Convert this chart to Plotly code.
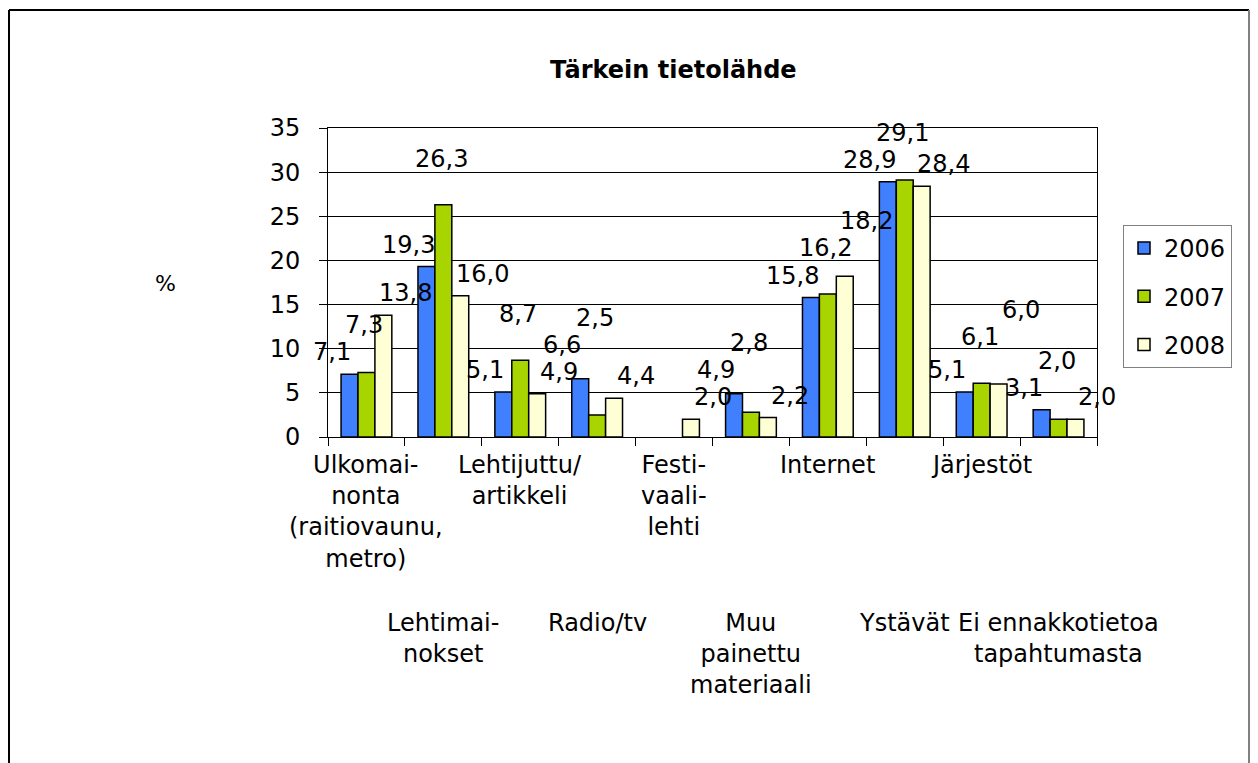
import plotly.graph_objects as go

# chart data
categories = ["Ulkomainonta", "Lehtimainokset", "Lehtijuttu", "Radio/tv", "Festivaalilehti",
              "Muu painettu materiaali", "Internet", "Ystävät", "Järjestöt", "Ei ennakkotietoa"]
tick_labels = ["Ulkomai-<br>nonta<br>(raitiovaunu,<br>metro)", "Lehtimai-<br>nokset",
               "Lehtijuttu/<br>artikkeli", "Radio/tv", "Festi-<br>vaali-<br>lehti",
               "Muu<br>painettu<br>materiaali", "Internet", "Ystävät", "Järjestöt",
               "Ei ennakkotietoa<br>tapahtumasta"]
years = ["2006", "2007", "2008"]
v2006 = [7.1, 19.3, 5.1, 6.6, None, 4.9, 15.8, 28.9, 5.1, 3.1]
v2007 = [7.3, 26.3, 8.7, 2.5, None, 2.8, 16.2, 29.1, 6.1, 2.0]
v2008 = [13.8, 16.0, 4.9, 4.4, 2.0, 2.2, 18.2, 28.4, 6.0, 2.0]
series = [v2006, v2007, v2008]
y_ticks = [0, 5, 10, 15, 20, 25, 30, 35]

colors = ["#4080FF", "#A8D400", "#FFFFD6"]
FONT = "DejaVu Sans"

# page body adds an 8px offset, so the figure is laid out 8px smaller
OFF = 8
W, H = 1258 - OFF, 763 - OFF
L, T = 328 - OFF, 128 - OFF
pw, ph = 1097 - 328, 437 - 128
R, B = W - L - pw, H - T - ph
bargap = 0.34
YMAX = 35


def px(x):
    return (x - OFF - L) / pw


def py(y):
    return (T + ph - (y - OFF)) / ph


fig = go.Figure()
for name, vals, col in zip(years, series, colors):
    fig.add_trace(go.Bar(x=categories, y=vals, name=name, legendgroup=name,
                         marker=dict(color=col, line=dict(color="black", width=1.5))))

# data labels (Excel-like staggered placement, pushed up when they collide)
cat_px = pw / len(categories)
bar_px = cat_px * (1 - bargap) / 3
nudges = [(-18, 22), (-2, 46), (22, 22)]
lab_w, lab_h = 54, 27
placed = []
anns = []
for k, c in enumerate(categories):
    for i, vals in enumerate(series):
        v = vals[k]
        if v is None:
            continue
        txt = f"{v:.1f}".replace(".", ",")
        dx = (i - 1) * bar_px + nudges[i][0]
        cx = (k + 0.5) * cat_px + dx
        cy = ph * (1 - v / YMAX) - nudges[i][1]
        moved = True
        while moved:
            moved = False
            for ox, oy in placed:
                if abs(cx - ox) < lab_w and abs(cy - oy) < lab_h:
                    cy = oy - lab_h
                    moved = True
        placed.append((cx, cy))
        anns.append(dict(x=c, y=v, xref="x", yref="y", text=txt,
                         showarrow=False, xanchor="center", yanchor="middle",
                         xshift=dx, yshift=ph * (1 - v / YMAX) - cy,
                         font=dict(family=FONT, size=24, color="black")))

# category labels in two staggered rows
for k, (c, lab) in enumerate(zip(categories, tick_labels)):
    anns.append(dict(x=c, y=0, xref="x", yref="paper", text=lab, showarrow=False,
                     xanchor="center", yanchor="top", yshift=-12 if k % 2 == 0 else -170,
                     font=dict(family=FONT, size=24, color="black")))

anns.append(dict(x=px(673), y=py(70), xref="paper", yref="paper",
                 text="<b>Tärkein tietolähde</b>", showarrow=False, xanchor="center",
                 yanchor="middle", font=dict(family=FONT, size=24, color="black")))
anns.append(dict(x=px(165), y=py(283), xref="paper", yref="paper",
                 text="%", showarrow=False, xanchor="center", yanchor="middle",
                 font=dict(family=FONT, size=22, color="black")))

# outer chart frame
shapes = [
    dict(type="line", xref="paper", yref="paper", x0=px(9), x1=px(1249), y0=py(10), y1=py(10),
         line=dict(color="black", width=2)),
    dict(type="line", xref="paper", yref="paper", x0=px(9), x1=px(9), y0=py(10), y1=py(790),
         line=dict(color="black", width=2)),
    dict(type="line", xref="paper", yref="paper", x0=px(1249), x1=px(1249), y0=py(10), y1=py(790),
         line=dict(color="#808080", width=2)),
]

fig.update_layout(
    width=W, height=H, margin=dict(l=L, r=R, t=T, b=B),
    paper_bgcolor="white", plot_bgcolor="white",
    barmode="group", bargap=bargap, bargroupgap=0,
    font=dict(family=FONT, size=24, color="black"),
    annotations=anns, shapes=shapes,
    legend=dict(x=px(1123), y=py(225), xanchor="left", yanchor="top",
                bordercolor="#808080", borderwidth=1, bgcolor="white",
                font=dict(family=FONT, size=24), tracegroupgap=14),
)
fig.update_xaxes(range=[-0.5, len(categories) - 0.5], autorange=False,
                 showticklabels=False, ticks="outside", tickson="boundaries", ticklen=8,
                 tickcolor="black", showline=True, linecolor="black", mirror=True,
                 showgrid=False)
fig.update_yaxes(range=[0, YMAX], autorange=False, tickvals=y_ticks, ticks="outside", ticklen=8,
                 tickcolor="black", showline=True, linecolor="black", mirror=True, showgrid=True,
                 gridcolor="black", gridwidth=1, zeroline=False,
                 tickfont=dict(family=FONT, size=24), ticklabelstandoff=14)

fig.write_html("out.html")
